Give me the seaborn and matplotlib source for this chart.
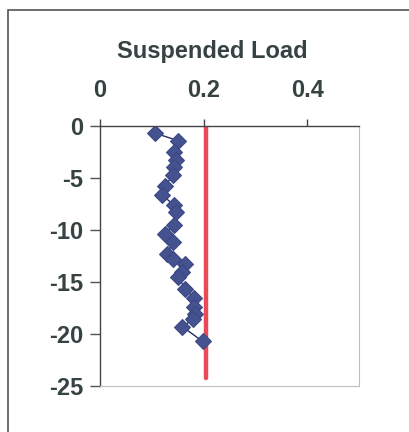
import matplotlib
matplotlib.use("Agg")
import matplotlib.pyplot as plt
from matplotlib.patches import Rectangle
import seaborn as sns
import pandas as pd

# Suspended load profile by depth
load = [0.107, 0.150, 0.142, 0.146, 0.142, 0.140, 0.126, 0.120, 0.142, 0.146,
        0.142, 0.126, 0.140, 0.130, 0.140, 0.165, 0.159, 0.151, 0.165, 0.181,
        0.181, 0.184, 0.179, 0.159, 0.198]
depth = [-0.7, -1.4, -2.5, -3.3, -3.9, -4.7, -5.8, -6.6, -7.6, -8.3,
         -9.5, -10.4, -11.2, -12.3, -12.8, -13.3, -14.0, -14.5, -15.7, -16.5,
         -17.4, -18.1, -18.6, -19.3, -20.7]

# Reference (mean) load line
ref_load = [0.205, 0.205]
ref_depth = [0.0, -24.2]

x_ticks = [0, 0.2, 0.4]
x_tick_labels = ["0", "0.2", "0.4"]
y_ticks = [0, -5, -10, -15, -20, -25]
y_tick_labels = ["0", "-5", "-10", "-15", "-20", "-25"]
title = "Suspended Load"

sns.set_theme(style="white")
plt.rcParams["font.family"] = ["Liberation Sans", "DejaVu Sans"]

W, H = 410, 432
fig = plt.figure(figsize=(W / 100, H / 100), dpi=100)
fig.patch.set_facecolor("white")

# outer frame
fig.add_artist(Rectangle((8 / W, -0.01), 1.2, 1.01 - 10 / H,
                         transform=fig.transFigure, fill=False,
                         edgecolor="#555555", linewidth=1.2))

ax = fig.add_axes([100 / W, 1 - 386 / H, 259 / W, 260 / H])

profile = pd.DataFrame({"load": load, "depth": depth})
ref = pd.DataFrame({"load": ref_load, "depth": ref_depth})

sns.lineplot(data=ref, x="load", y="depth", sort=False, estimator=None,
             color="#e94a55", linewidth=3.2, ax=ax)
sns.lineplot(data=profile, x="load", y="depth", sort=False, estimator=None,
             color="#26305e", linewidth=1.0, marker="D", markersize=8,
             markerfacecolor="#44528f", markeredgecolor="#3a4782", ax=ax)

ax.set_xlim(0, 0.5)
ax.set_ylim(-25, 0)

text_color = "#374343"
ax.xaxis.tick_top()
ax.set_xticks(x_ticks)
ax.set_xticklabels(x_tick_labels, fontsize=17, fontweight="bold", color=text_color)
ax.set_yticks(y_ticks)
ax.set_yticklabels(y_tick_labels, fontsize=17, fontweight="bold", color=text_color)
ax.tick_params(axis="x", which="major", direction="out", length=5, width=1,
               color="#444444", pad=12, top=True, bottom=False)
ax.tick_params(axis="y", which="major", direction="out", length=7, width=1,
               color="#555555", pad=5, left=True)

ax.xaxis.set_label_position("top")
ax.set_xlabel(title, fontsize=17, fontweight="bold", color=text_color)
ax.xaxis.set_label_coords((212 - 100) / 259, 1 + (126 - 58) / 260)
ax.set_ylabel("")

for side in ["top", "left"]:
    ax.spines[side].set_color("#444444")
    ax.spines[side].set_linewidth(1.0)
for side in ["right", "bottom"]:
    ax.spines[side].set_color("#b8c0c4")
    ax.spines[side].set_linewidth(0.8)

fig.savefig("out.png", dpi=100, facecolor="white")
